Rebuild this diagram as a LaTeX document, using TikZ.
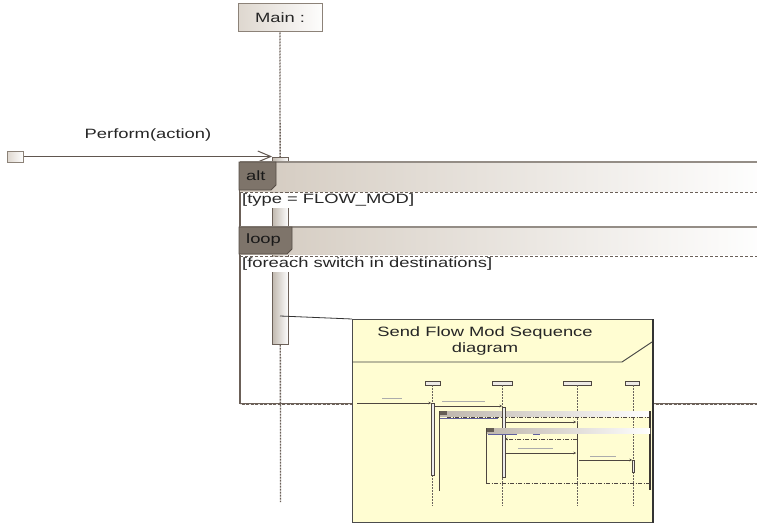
\documentclass[tikz,border=0pt]{standalone}
\usepackage{fontspec}
\setmainfont{Liberation Sans}[FakeStretch=1.36]
\usetikzlibrary{arrows.meta,shapes.geometric}
\definecolor{frameline}{HTML}{6B6058}
\definecolor{tabfill}{HTML}{7E746A}
\definecolor{hdr}{HTML}{D3CABF}
\definecolor{txt}{HTML}{262626}
\definecolor{notefill}{HTML}{FFFDD2}
\definecolor{boxline}{HTML}{8C8278}
\definecolor{thumbline}{HTML}{4E4640}
\tikzset{
  objbox/.style={rectangle, draw=boxline, line width=1pt, left color=#1, right color=white!96!hdr, inner sep=0pt},
  objbox/.default={hdr!75!white},
  lifeline/.style={draw=frameline, line width=1.3pt, dash pattern=on 2pt off 1pt},
  actbar/.style={rectangle, draw=frameline, line width=0.9pt, left color=hdr!90!black!95, right color=white, inner sep=0pt},
  msgline/.style={draw=frameline!90!black, line width=1pt},
  framesep/.style={draw=frameline, line width=0.8pt, dash pattern=on 3pt off 2pt},
  tabshape/.style={fill=tabfill, draw=frameline!80!black, line width=0.8pt},
  tabtext/.style={text=black!90, inner sep=0pt, anchor=west},
  guard/.style={text=txt, fill=white, inner sep=1pt, anchor=north west},
  thline/.style={draw=thumbline, line width=0.7pt},
  thlife/.style={draw=thumbline!85, line width=0.7pt, dash pattern=on 2pt off 1pt},
  thlabel/.style={draw=gray!65, line width=0.6pt},
  tharrow/.style={thline, -{Stealth[length=2.5pt,width=2.5pt]}},
}
\begin{document}
\begin{tikzpicture}[x=1pt,y=-1pt, font=\fontsize{13.5}{16.5}\selectfont]
\clip (0,0) rectangle (757,527);
\fill[white] (0,0) rectangle (757,527);

% lifeline and object
\node[objbox, minimum width=84pt, minimum height=28pt, text=txt] (main) at (280,18) {Main :};
\coordinate (llend) at (280.5,502);
\draw[lifeline] (main.south) -- (llend);

% frame left edge
\coordinate (fl) at (240,162);
\coordinate (fb) at (240,404);
\draw[frameline, line width=2pt] (fl) -- (fb);

% activation
\node[actbar, minimum width=16pt, minimum height=187pt] (act) at (280.5,250.5) {};

% source and incoming message
\node[objbox, minimum width=16pt, minimum height=11pt] (src) at (15,156.5) {};
\draw[msgline, -{Straight Barb[length=13pt,width=11pt,line width=1pt]}] (src.east) -- (src.east -| act.west);
\node[text=txt] (perform) at (148,135) {Perform(action)};

% alt frame header
\shade[left color=hdr, right color=white!97!hdr] (240,162) rectangle (757,191);
\draw[draw=hdr!70!black, line width=1.4pt] (240,162) -- (770,162);
\draw[framesep] (240,192) -- (770,192);
\fill[tabshape] (239,162) -- (276,162) -- (276,185) -- (271,190) -- (239,190) -- cycle;
\node[tabtext] (alttab) at (246,176) {alt};
\node[guard] (g1) at (241,193) {[type = FLOW\_MOD]};

% loop frame header
\shade[left color=hdr, right color=white!97!hdr] (240,227) rectangle (757,254);
\draw[draw=hdr!70!black, line width=1.4pt] (240,227) -- (770,227);
\draw[framesep] (240,256) -- (770,256);
\fill[tabshape] (239,227) -- (292,227) -- (292,249) -- (287,254) -- (239,254) -- cycle;
\node[tabtext] (looptab) at (246,240.5) {loop};
\node[guard] (g2) at (241,257) {[foreach switch in destinations]};

% frame bottom (alt and loop)
\coordinate (fr) at (770,404);
\draw[frameline, line width=1.8pt] (fb) -- (fr);
\draw[white!85!frameline, line width=0.7pt, dash pattern=on 1.5pt off 3pt] (fb) -- (fr);

% reference to send flow mod diagram
\node[draw=black!70, line width=0.9pt, fill=notefill, minimum width=300pt, minimum height=203pt, anchor=north west, inner sep=0pt] (send) at (352,319) {};
\coordinate (m2) at (280,316);
\draw[draw=black!80, line width=0.8pt] (m2) -- (send.north west);
\draw[black!80, line width=1.6pt] (send.north east) -- (send.south east);
\draw[black!75, line width=0.9pt] (352,362) -- (622,362) -- (652,342);
\node[text=txt, align=center] (sendtitle) at (485,341) {Send Flow Mod Sequence\\diagram};

% ---- thumbnail of the referenced diagram ----
% heads
\foreach \a/\b in {425/440, 492/512, 563/591, 625/639}{
  \filldraw[fill=hdr!40!white, draw=thumbline, line width=0.5pt] (\a,381) rectangle (\b,385);
}
\foreach \x in {432.5, 502, 577, 633}{
  \draw[thlife] (\x,385) -- (\x,506);
}
% frame A
\shade[left color=hdr!90!black, right color=white] (439,411) rectangle (650,416);
\fill[tabfill!80!black] (439,411) rectangle (447,415);
\draw[thline, dash pattern=on 4pt off 1.5pt on 1pt off 1.5pt] (447,417) -- (650,417);
\draw[draw=blue!25!gray, line width=0.6pt] (440,418.5) -- (498,418.5);
\draw[thline, line width=0.9pt] (439,411) -- (439,491);
\draw[draw=thumbline!80!black, line width=1.6pt] (650,411) -- (650,490);
% activations
\filldraw[fill=white!85!gray, draw=thumbline, line width=0.5pt] (431,403) rectangle (434,475);
\filldraw[fill=white!85!gray, draw=thumbline, line width=0.5pt] (502,407) rectangle (505,477);
\draw[thline] (577,423) -- (577,477);
\filldraw[fill=white!85!gray, draw=thumbline, line width=0.5pt] (632,460) rectangle (634.5,472);
% frame B
\shade[left color=hdr!90!black, right color=white] (486,428) rectangle (650,433);
\fill[tabfill!80!black] (486,428) rectangle (494,432);
\draw[draw=blue!25!gray, line width=0.6pt] (488,434.5) -- (517,434.5);
\draw[draw=blue!25!gray, line width=0.6pt] (533,434.5) -- (540,434.5);
\draw[thline, line width=0.9pt] (486,428) -- (486,483);
\draw[thline, dash pattern=on 4pt off 1.5pt on 1pt off 1.5pt] (486,483) -- (650,483);
% messages
\draw[tharrow] (357,403) -- (431,403);
\draw[thlabel] (382,398) -- (402,398);
\draw[tharrow] (434,406) -- (502,406);
\draw[thlabel] (442,401) -- (485,401);
\draw[tharrow] (505,422) -- (576,422);
\draw[tharrow, dash pattern=on 4pt off 1.5pt on 1pt off 1.5pt] (577,439) -- (505,439);
\draw[tharrow] (505,453) -- (576,453);
\draw[thlabel] (518,448) -- (553,448);
\draw[tharrow] (579,460) -- (632,460);
\draw[thlabel] (590,456) -- (616,456);
\end{tikzpicture}
\end{document}
